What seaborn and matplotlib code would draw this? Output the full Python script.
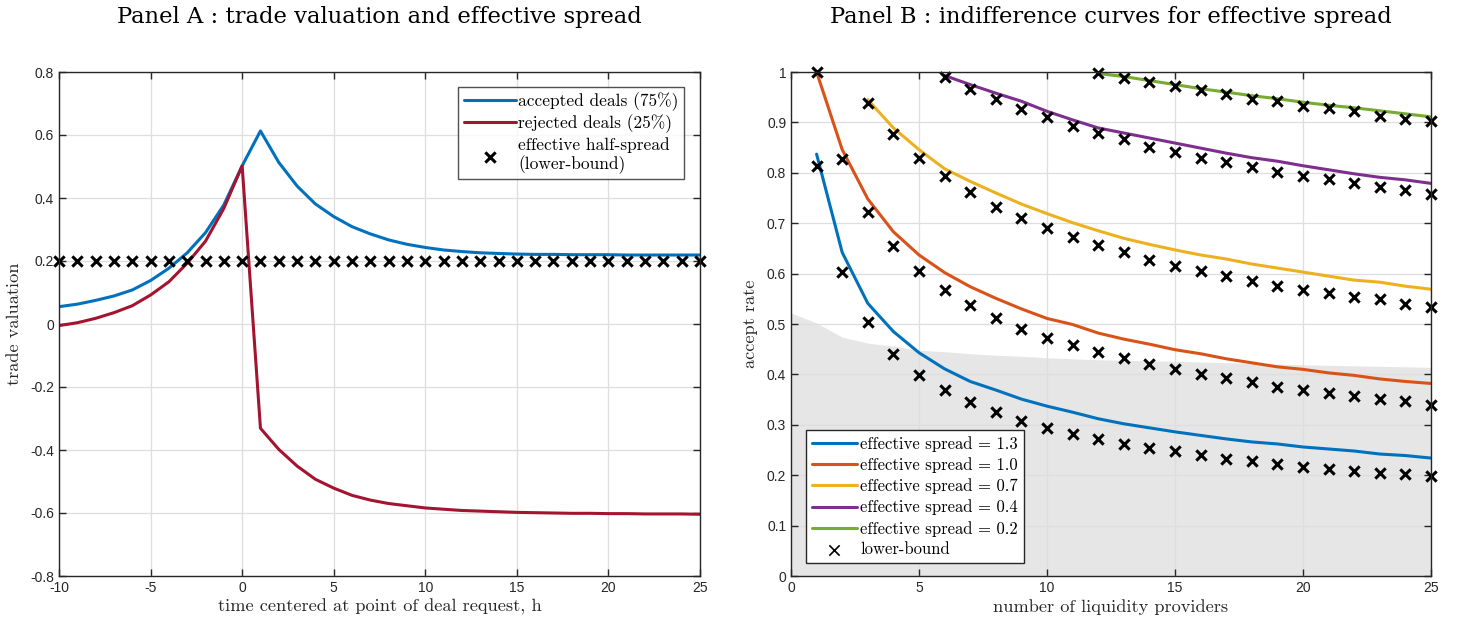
import numpy as np
import pandas as pd
import matplotlib
matplotlib.use("Agg")
import matplotlib.pyplot as plt
import seaborn as sns

# ---------------- Panel A data ----------------
t_hours = list(range(-10, 26))
accepted = [0.055, 0.063, 0.075, 0.089, 0.108, 0.138, 0.177, 0.226, 0.290, 0.378,
            0.502, 0.613, 0.513, 0.438, 0.381, 0.341, 0.309, 0.286, 0.267, 0.253,
            0.243, 0.235, 0.230, 0.226, 0.224, 0.222, 0.221, 0.221, 0.220, 0.220,
            0.220, 0.219, 0.219, 0.219, 0.219, 0.219]
rejected = [-0.005, 0.004, 0.018, 0.036, 0.058, 0.092, 0.134, 0.193, 0.263, 0.367,
            0.502, -0.331, -0.398, -0.451, -0.493, -0.521, -0.544, -0.559, -0.570, -0.577,
            -0.584, -0.588, -0.592, -0.594, -0.596, -0.598, -0.599, -0.600, -0.601, -0.601,
            -0.602, -0.602, -0.603, -0.603, -0.603, -0.604]
half_spread = [0.2] * len(t_hours)

# ---------------- Panel B data ----------------
spread_labels = ["1.3", "1.0", "0.7", "0.4", "0.2"]
start_n = [1, 1, 3, 6, 12]
curve_13 = [0.837, 0.642, 0.541, 0.485, 0.443, 0.411, 0.386, 0.369, 0.351, 0.337,
            0.325, 0.312, 0.302, 0.294, 0.286, 0.279, 0.272, 0.266, 0.262, 0.256,
            0.252, 0.248, 0.242, 0.239, 0.234]
curve_10 = [1.000, 0.846, 0.748, 0.683, 0.637, 0.602, 0.574, 0.551, 0.530, 0.511,
            0.499, 0.482, 0.470, 0.460, 0.449, 0.441, 0.431, 0.423, 0.415, 0.410,
            0.403, 0.398, 0.391, 0.386, 0.382]
curve_07 = [0.945, 0.889, 0.846, 0.808, 0.783, 0.760, 0.738, 0.719, 0.701, 0.685,
            0.670, 0.658, 0.647, 0.637, 0.629, 0.619, 0.611, 0.603, 0.595, 0.587,
            0.583, 0.575, 0.569]
curve_04 = [0.993, 0.975, 0.958, 0.942, 0.922, 0.905, 0.889, 0.879, 0.869, 0.859,
            0.849, 0.839, 0.830, 0.823, 0.814, 0.806, 0.798, 0.791, 0.786, 0.779]
curve_02 = [0.997, 0.991, 0.983, 0.975, 0.967, 0.960, 0.953, 0.947, 0.940, 0.934,
            0.929, 0.923, 0.917, 0.911]
lb_13 = [0.813, 0.603, 0.503, 0.441, 0.398, 0.369, 0.345, 0.325, 0.307, 0.294,
         0.282, 0.271, 0.262, 0.253, 0.248, 0.240, 0.233, 0.228, 0.223, 0.217,
         0.213, 0.208, 0.205, 0.203, 0.199]
lb_10 = [1.000, 0.828, 0.722, 0.654, 0.606, 0.568, 0.538, 0.512, 0.491, 0.472,
         0.458, 0.445, 0.433, 0.421, 0.410, 0.401, 0.392, 0.384, 0.375, 0.370,
         0.363, 0.358, 0.352, 0.347, 0.340]
lb_07 = [0.938, 0.876, 0.830, 0.794, 0.762, 0.733, 0.710, 0.690, 0.673, 0.656,
         0.642, 0.627, 0.616, 0.605, 0.596, 0.585, 0.576, 0.568, 0.562, 0.553,
         0.549, 0.539, 0.533]
lb_04 = [0.990, 0.966, 0.947, 0.927, 0.910, 0.892, 0.879, 0.868, 0.852, 0.841,
         0.830, 0.821, 0.811, 0.801, 0.793, 0.787, 0.779, 0.772, 0.765, 0.758]
lb_02 = [0.998, 0.989, 0.980, 0.973, 0.964, 0.956, 0.947, 0.942, 0.933, 0.928,
         0.922, 0.913, 0.907, 0.902]
shade_n = [0, 1, 2, 3, 4, 5, 6, 7, 8, 9, 10, 12, 15, 20, 25]
shade_top = [0.522, 0.502, 0.474, 0.462, 0.456, 0.448, 0.445, 0.441, 0.438, 0.436,
             0.433, 0.429, 0.426, 0.419, 0.414]

# ---------------- style ----------------
sns.set_theme(style="white")
serif = ["cmr10", "DejaVu Serif"]
title_font = ["DejaVu Serif"]
sansf = ["Liberation Sans", "DejaVu Sans"]
plt.rcParams.update({
    "font.family": sansf,
    "axes.formatter.use_mathtext": True,
    "xtick.direction": "in", "ytick.direction": "in",
    "xtick.top": True, "ytick.right": True,
    "xtick.bottom": True, "ytick.left": True,
    "xtick.major.size": 5, "ytick.major.size": 5,
    "xtick.major.width": 1.0, "ytick.major.width": 1.0,
    "xtick.color": "#262626", "ytick.color": "#262626",
    "xtick.labelsize": 10, "ytick.labelsize": 10,
    "axes.edgecolor": "#262626", "axes.linewidth": 1.0,
    "axes.labelcolor": "#262626", "text.color": "black",
})

fig = plt.figure(figsize=(14.59, 6.23), dpi=100)
axA = fig.add_axes([59/1459, 1-576/623, 641/1459, 504/623])
axB = fig.add_axes([791/1459, 1-576/623, 640/1459, 504/623])

grid_kw = dict(color="#dedede", linewidth=0.9)

# ---------------- Panel A ----------------
dfA = pd.DataFrame({"t": t_hours, "acc": accepted, "rej": rejected, "hs": half_spread})
sns.lineplot(data=dfA, x="t", y="acc", ax=axA, color="#0072BD", lw=2.2,
             label="accepted deals (75%)")
sns.lineplot(data=dfA, x="t", y="rej", ax=axA, color="#A2142F", lw=2.2,
             label="rejected deals (25%)")
sns.scatterplot(data=dfA, x="t", y="hs", ax=axA, marker="x", color="black",
                s=55, linewidth=2.2, label="effective half-spread\n(lower-bound)",
                zorder=5, clip_on=False)
axA.set_xlim(-10, 25)
axA.set_ylim(-0.8, 0.8)
axA.set_xticks(range(-10, 26, 5))
axA.set_yticks(np.round(np.arange(-0.8, 0.81, 0.2), 1))
axA.set_yticklabels(["-0.8", "-0.6", "-0.4", "-0.2", "0", "0.2", "0.4", "0.6", "0.8"])
axA.set_xticklabels([str(v) for v in range(-10, 26, 5)])
axA.grid(True, **grid_kw)
axA.set_xlabel("time centered at point of deal request, h", family=serif, fontsize=13.2,
               labelpad=3)
axA.set_ylabel("trade valuation", family=serif, fontsize=13.2, labelpad=6)
axA.set_title("Panel A : trade valuation and effective spread", family=title_font,
              fontsize=16.3, pad=35, color="black")
legA = axA.legend(loc="upper right", bbox_to_anchor=(0.975, 0.970), borderaxespad=0,
                  prop={"family": serif, "size": 12.5}, frameon=True, fancybox=False,
                  edgecolor="#262626", handlelength=3.0, handletextpad=0.15,
                  labelspacing=0.2, borderpad=0.3)
legA.get_frame().set_linewidth(1.0)

# ---------------- Panel B ----------------
axB.fill_between(shade_n, 0, shade_top, color="#e6e6e6", lw=0, zorder=0)
colors = ["#0072BD", "#D95319", "#EDB120", "#7E2F8E", "#77AC30"]
curves = [curve_13, curve_10, curve_07, curve_04, curve_02]
lbs = [lb_13, lb_10, lb_07, lb_04, lb_02]
for lab, n0, cv, col in zip(spread_labels, start_n, curves, colors):
    df = pd.DataFrame({"n": list(range(n0, n0 + len(cv))), "v": cv})
    sns.lineplot(data=df, x="n", y="v", ax=axB, color=col, lw=2.2,
                 label="effective spread = " + lab)
for i, (n0, lb) in enumerate(zip(start_n, lbs)):
    df = pd.DataFrame({"n": list(range(n0, n0 + len(lb))), "v": lb})
    sns.scatterplot(data=df, x="n", y="v", ax=axB, marker="x", color="black",
                    s=55, linewidth=2.2, zorder=5, clip_on=False,
                    label="lower-bound" if i == 0 else None)
axB.set_xlim(0, 25)
axB.set_ylim(0, 1)
axB.set_xticks(range(0, 26, 5))
axB.set_xticklabels([str(v) for v in range(0, 26, 5)])
yt = np.round(np.arange(0, 1.01, 0.1), 1)
axB.set_yticks(yt)
axB.set_yticklabels(["0"] + [f"{v:.1f}" for v in yt[1:-1]] + ["1"])
axB.grid(True, **grid_kw)
axB.set_axisbelow(True)
axB.set_xlabel("number of liquidity providers", family=serif, fontsize=13.2, labelpad=3)
axB.set_ylabel("accept rate", family=serif, fontsize=13.2, labelpad=6)
axB.set_title("Panel B : indifference curves for effective spread", family=title_font,
              fontsize=16.3, pad=35, color="black")
legB = axB.legend(loc="lower left", bbox_to_anchor=(0.0234, 0.0258), borderaxespad=0,
                  prop={"family": serif, "size": 12}, frameon=True, fancybox=False,
                  edgecolor="#262626", handlelength=2.7, handletextpad=0.2,
                  labelspacing=0.32, borderpad=0.35, framealpha=1)
legB.get_frame().set_linewidth(1.0)
for h in legB.legend_handles[-1:]:
    h.set_linewidth(1.2)

for ax in (axA, axB):
    for s in ax.spines.values():
        s.set_visible(True)
        s.set_zorder(10)

fig.savefig("out.png", dpi=100)
